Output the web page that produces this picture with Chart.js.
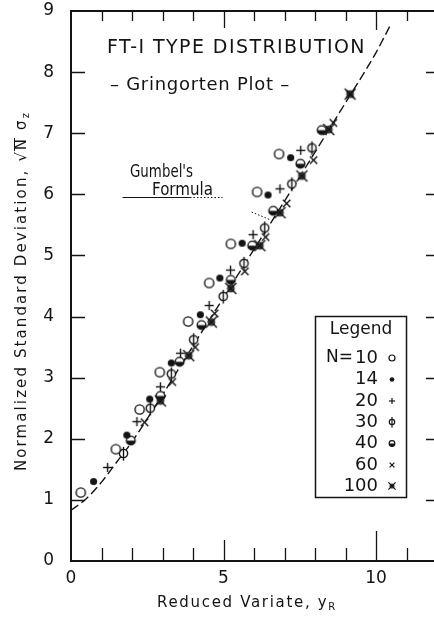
<!DOCTYPE html>
<html>
<head>
<meta charset="utf-8">
<title>FT-I Type Distribution – Gringorten Plot</title>
<style>
  html, body { margin: 0; padding: 0; background: #ffffff; }
  #wrap { width: 434px; height: 618px; position: relative; }
  canvas { display: block; }
</style>
<script src="https://cdn.jsdelivr.net/npm/chart.js@4.4.1/dist/chart.umd.min.js"></script>
</head>
<body>
<div id="wrap"><canvas id="chart" width="434" height="618"></canvas></div>
<script>
// ---- Values -------------------------------------------------------------
// Sample sizes shown in the legend
const sampleSizes = [10, 14, 20, 30, 40, 60, 100];

// Plotting positions (reduced variate y_R) and normalized std. deviation, per N
const n10X  = [0.32, 1.47, 2.25, 2.91, 3.84, 4.53, 5.24, 6.10, 6.82];
const n10Y  = [1.12, 1.83, 2.48, 3.09, 3.92, 4.55, 5.19, 6.04, 6.66];
const n14X  = [0.74, 1.83, 2.58, 3.29, 4.24, 4.88, 5.61, 6.46, 7.20];
const n14Y  = [1.30, 2.06, 2.65, 3.24, 4.03, 4.63, 5.20, 5.99, 6.60];
const n20X  = [1.20, 2.16, 2.93, 3.59, 4.53, 5.23, 5.97, 6.85, 7.53];
const n20Y  = [1.53, 2.28, 2.85, 3.40, 4.18, 4.76, 5.34, 6.09, 6.72];
const n30X  = [1.72, 2.60, 3.29, 4.02, 4.99, 5.67, 6.35, 7.24, 7.90];
const n30Y  = [1.76, 2.50, 3.06, 3.62, 4.33, 4.87, 5.45, 6.17, 6.76];
const n40X  = [1.96, 2.93, 3.56, 4.28, 5.24, 5.94, 6.63, 7.52, 8.22];
const n40Y  = [1.97, 2.70, 3.26, 3.86, 4.60, 5.16, 5.73, 6.50, 7.05];
const n60X  = [2.41, 3.32, 4.07, 4.71, 5.70, 6.38, 7.07, 7.95, 8.60, 9.15];
const n60Y  = [2.27, 2.93, 3.50, 4.05, 4.74, 5.30, 5.85, 6.56, 7.17, 7.64];
const n100X = [2.93, 3.86, 4.60, 5.24, 6.19, 6.85, 7.57, 8.45, 9.15];
const n100Y = [2.62, 3.36, 3.91, 4.46, 5.16, 5.70, 6.30, 7.06, 7.64];

// Gumbel's formula curve
const gumbelX = [0, 0.5, 1.0, 1.5, 2.0, 2.5, 3.0, 3.5, 4.0, 5.0, 6.0, 7.0, 8.0, 9.0, 10.0, 10.45];
const gumbelY = [0.83, 1.02, 1.29, 1.62, 1.95, 2.33, 2.72, 3.12, 3.52, 4.31, 5.10, 5.89, 6.69, 7.50, 8.32, 8.75];

// Axis ticks
const xTickValues   = [0, 1, 2, 3, 4, 5, 6, 7, 8, 9, 10, 11];
const xTickLabelled = [0, 5, 10];
const yTickValues   = [0, 1, 2, 3, 4, 5, 6, 7, 8, 9];

// ---- Drawing helpers ----------------------------------------------------
const FONT = '"DejaVu Sans", "Liberation Sans", sans-serif';
const INK = '#141414';

function zip(xs, ys) { return xs.map((x, i) => ({ x: x, y: ys[i] })); }

// Paint one plotting symbol centred on (cx, cy)
function paintMarker(ctx, kind, cx, cy, r, lw) {
  ctx.save();
  ctx.strokeStyle = INK;
  ctx.fillStyle = INK;
  ctx.lineWidth = lw || 1.4;
  ctx.lineCap = 'butt';
  const circle = (rad) => { ctx.beginPath(); ctx.arc(cx, cy, rad, 0, Math.PI * 2); };
  const line = (x1, y1, x2, y2) => { ctx.beginPath(); ctx.moveTo(x1, y1); ctx.lineTo(x2, y2); ctx.stroke(); };
  switch (kind) {
    case 'open':
      circle(r); ctx.fillStyle = '#fff'; ctx.fill(); ctx.stroke();
      break;
    case 'dot':
      circle(r * 0.78); ctx.fill();
      break;
    case 'plus':
      line(cx - r, cy, cx + r, cy);
      line(cx, cy - r, cx, cy + r);
      break;
    case 'phi':
      circle(r * 0.9); ctx.fillStyle = '#fff'; ctx.fill(); ctx.stroke();
      line(cx, cy - r - 2, cx, cy + r + 2.5);
      break;
    case 'half':
      circle(r * 0.95); ctx.fillStyle = '#fff'; ctx.fill(); ctx.stroke();
      ctx.fillStyle = INK;
      ctx.beginPath(); ctx.arc(cx, cy, r * 0.95, 0, Math.PI); ctx.closePath(); ctx.fill();
      break;
    case 'cross':
      line(cx - r * 0.8, cy - r * 0.8, cx + r * 0.8, cy + r * 0.8);
      line(cx + r * 0.8, cy - r * 0.8, cx - r * 0.8, cy + r * 0.8);
      break;
    case 'crossDot':
      circle(r * 0.85); ctx.fillStyle = '#3a3a3a'; ctx.fill();
      line(cx - r * 1.2, cy - r * 1.2, cx + r * 1.2, cy + r * 1.2);
      line(cx + r * 1.2, cy - r * 1.2, cx - r * 1.2, cy + r * 1.2);
      break;
  }
  ctx.restore();
}

function markerCanvas(kind, r) {
  const s = 2 * Math.ceil(r) + 9;
  const c = document.createElement('canvas');
  c.width = s; c.height = s;
  paintMarker(c.getContext('2d'), kind, s / 2, s / 2, r);
  return c;
}

const markerKinds = ['open', 'dot', 'plus', 'phi', 'half', 'cross', 'crossDot'];
const seriesX = [n10X, n14X, n20X, n30X, n40X, n60X, n100X];
const seriesY = [n10Y, n14Y, n20Y, n30Y, n40Y, n60Y, n100Y];

// Text running from x0 to x1: widened with letter spacing, or narrowed horizontally
function drawSpanned(ctx, segs, x0, x1, y) {
  let natural = 0, count = 0;
  ctx.letterSpacing = '0px';
  for (const s of segs) {
    ctx.font = `${s.size}px ${FONT}`;
    s.nw = ctx.measureText(s.t).width;
    natural += s.nw; count += s.t.length;
  }
  let sp = count > 1 ? (x1 - x0 - natural) / count : 0;
  let k = 1;
  if (sp < 0) { k = (x1 - x0) / natural; sp = 0; }
  ctx.save();
  ctx.translate(x0, y);
  ctx.scale(k, 1);
  let x = 0;
  for (const s of segs) {
    ctx.font = `${s.size}px ${FONT}`;
    ctx.letterSpacing = sp.toFixed(2) + 'px';
    ctx.fillText(s.t, x, s.dy || 0);
    if (s.over) {
      ctx.save();
      ctx.lineWidth = 1;
      ctx.beginPath();
      ctx.moveTo(x - 1, -s.size * 0.5);
      ctx.lineTo(x + s.nw + 1, -s.size * 0.5);
      ctx.stroke();
      ctx.restore();
    }
    x += s.nw + s.t.length * sp;
  }
  ctx.letterSpacing = '0px';
  ctx.restore();
}

// Frame and inward tick marks
const framePlugin = {
  id: 'frameTicks',
  afterDraw(chart) {
    const { ctx, chartArea: a, scales: { x, y } } = chart;
    ctx.save();
    ctx.strokeStyle = INK;
    ctx.lineCap = 'butt';
    ctx.lineWidth = 2;
    ctx.beginPath();
    ctx.moveTo(a.right, a.top); ctx.lineTo(a.left, a.top); ctx.lineTo(a.left, a.bottom); ctx.lineTo(a.right, a.bottom);
    ctx.stroke();
    ctx.lineWidth = 1.3;
    for (const v of xTickValues) {
      if (v === 0) continue;
      const px = Math.round(x.getPixelForValue(v)) + 0.5;
      const lb = v === 10 ? 30 : (v === 5 ? 21 : 13);
      const lt = v === 10 ? 19 : (v === 5 ? 17 : 10);
      ctx.beginPath();
      ctx.moveTo(px, a.bottom); ctx.lineTo(px, a.bottom - lb);
      ctx.moveTo(px, a.top); ctx.lineTo(px, a.top + lt);
      ctx.stroke();
    }
    for (const v of yTickValues) {
      if (v === 0 || v === 9) continue;
      const py = Math.round(y.getPixelForValue(v)) + 0.5;
      ctx.beginPath();
      ctx.moveTo(a.left, py); ctx.lineTo(a.left + 14, py);
      ctx.moveTo(a.right, py); ctx.lineTo(a.right - 8, py);
      ctx.stroke();
    }
    ctx.restore();
  }
};

// Captions, axis titles, Gumbel note and legend
const textPlugin = {
  id: 'captions',
  afterDraw(chart) {
    const { ctx, scales: { x, y } } = chart;
    ctx.save();
    ctx.fillStyle = INK;
    ctx.strokeStyle = INK;
    ctx.textBaseline = 'middle';
    ctx.textAlign = 'left';

    drawSpanned(ctx, [{ t: 'FT-I TYPE DISTRIBUTION', size: 19 }], 107, 366, 48);
    drawSpanned(ctx, [{ t: '– Gringorten Plot –', size: 18 }], 110, 290, 85);
    drawSpanned(ctx, [{ t: "Gumbel's", size: 17 }], 130, 193, 173);
    drawSpanned(ctx, [{ t: 'Formula', size: 17 }], 152, 213, 191);

    // underline of the note and its dotted leader to the curve
    const uy = Math.round(y.getPixelForValue(5.95)) + 0.5;
    ctx.lineWidth = 1;
    ctx.beginPath();
    ctx.moveTo(x.getPixelForValue(1.69), uy); ctx.lineTo(x.getPixelForValue(3.9), uy);
    ctx.stroke();
    ctx.setLineDash([1.5, 2]);
    ctx.beginPath();
    ctx.moveTo(x.getPixelForValue(3.9), uy); ctx.lineTo(x.getPixelForValue(4.97), uy);
    ctx.moveTo(x.getPixelForValue(5.92), y.getPixelForValue(5.71));
    ctx.lineTo(x.getPixelForValue(6.55), y.getPixelForValue(5.58));
    ctx.stroke();
    ctx.setLineDash([]);

    // x-axis title
    drawSpanned(ctx, [
      { t: 'Reduced Variate, y', size: 15 },
      { t: 'R', size: 10, dy: 4 }
    ], 157, 337, 603);

    // y-axis title (rotated)
    ctx.save();
    ctx.translate(22, 291);
    ctx.rotate(-Math.PI / 2);
    drawSpanned(ctx, [
      { t: 'Normalized Standard Deviation, √', size: 15 },
      { t: 'N', size: 15, over: true },
      { t: ' σ', size: 15 },
      { t: 'z', size: 10, dy: 4 }
    ], -180, 180, 0);
    ctx.restore();

    // legend box
    ctx.lineWidth = 1.5;
    ctx.strokeRect(315.5, 316.5, 91, 181);
    ctx.textAlign = 'center';
    ctx.font = `17px ${FONT}`;
    ctx.fillText('Legend', 361, 330);
    const rowY = [358, 379.5, 401, 422, 443.5, 465, 486];
    ctx.textAlign = 'left';
    ctx.fillText('N=', 326, rowY[0]);
    ctx.textAlign = 'right';
    sampleSizes.forEach((n, i) => {
      ctx.font = `18px ${FONT}`;
      ctx.fillText(String(n), 378, rowY[i]);
      paintMarker(ctx, markerKinds[i], 392, rowY[i], 3, 1.2);
    });
    ctx.restore();
  }
};

// ---- Chart --------------------------------------------------------------
const pointDatasets = sampleSizes.map((n, i) => ({
  label: 'N = ' + n,
  data: zip(seriesX[i], seriesY[i]),
  pointStyle: markerCanvas(markerKinds[i], 4.6),
  pointRadius: 4,
  showLine: false,
  order: 1
}));

new Chart(document.getElementById('chart'), {
  type: 'scatter',
  data: {
    datasets: [
      {
        label: "Gumbel's Formula",
        data: zip(gumbelX, gumbelY),
        showLine: true,
        borderColor: INK,
        borderWidth: 1.4,
        borderDash: [9, 4],
        pointRadius: 0,
        cubicInterpolationMode: 'monotone',
        fill: false,
        order: 10
      },
      ...pointDatasets
    ]
  },
  options: {
    responsive: false,
    animation: false,
    events: [],
    layout: { autoPadding: false, padding: { top: 11, right: 0, left: 0, bottom: 0 } },
    plugins: { legend: { display: false }, tooltip: { enabled: false } },
    scales: {
      x: {
        type: 'linear', min: 0, max: 11.9,
        afterFit(s) { s.height = 57; s.paddingLeft = 0; s.paddingRight = 0; },
        grid: { display: false, drawTicks: false },
        border: { display: false },
        afterBuildTicks(s) { s.ticks = xTickValues.map(v => ({ value: v })); },
        ticks: {
          autoSkip: false, maxRotation: 0, padding: 7, color: INK,
          font: { family: FONT, size: 17 },
          callback: (v) => xTickLabelled.includes(v) ? String(v) : ''
        }
      },
      y: {
        type: 'linear', min: 0, max: 9,
        afterFit(s) { s.width = 71; s.paddingTop = 0; s.paddingBottom = 0; },
        grid: { display: false, drawTicks: false },
        border: { display: false },
        afterBuildTicks(s) { s.ticks = yTickValues.map(v => ({ value: v })); },
        ticks: {
          autoSkip: false, padding: 17, color: INK,
          font: { family: FONT, size: 17 }
        }
      }
    }
  },
  plugins: [framePlugin, textPlugin]
});
</script>
</body>
</html>
